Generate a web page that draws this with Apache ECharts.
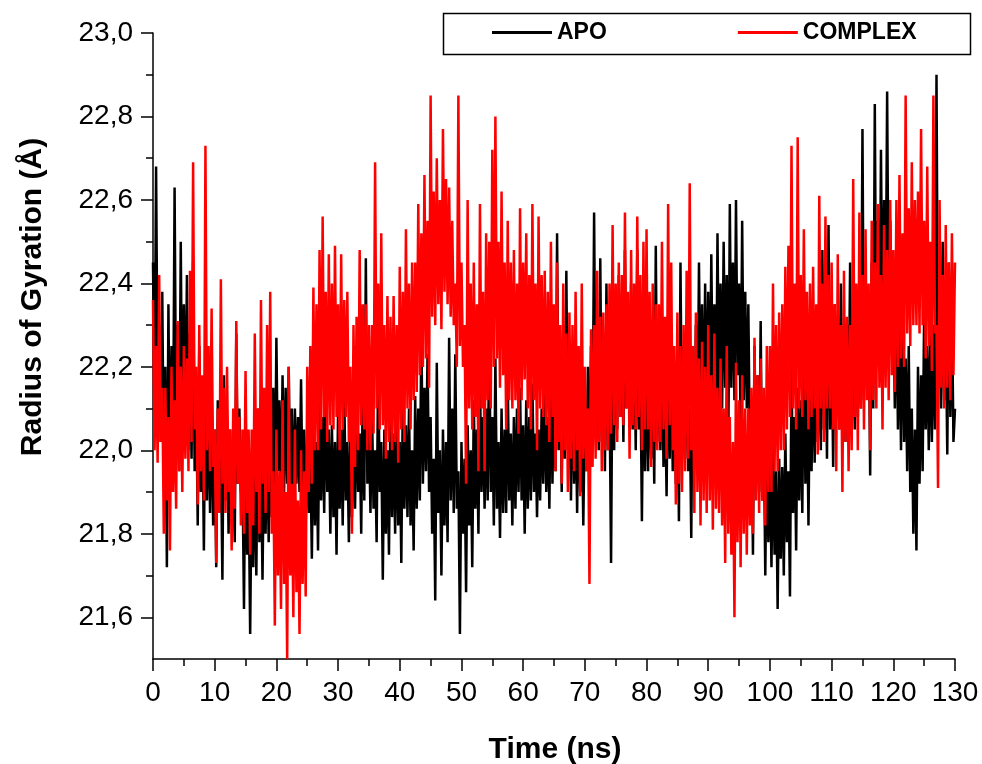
<!DOCTYPE html>
<html>
<head>
<meta charset="utf-8">
<script src="https://cdn.jsdelivr.net/npm/echarts@6/dist/echarts.min.js"></script>
<style>
html,body{margin:0;padding:0;background:#fff;}
#c{width:982px;height:764px;}
</style>
</head>
<body>
<div id="c"></div>
<script>
// Time step of the trajectory samples (ns)
const TIME_STEP = 0.25;
const seriesNames = ['APO', 'COMPLEX'];
const yTickLabels = [21.6, 21.8, 22.0, 22.2, 22.4, 22.6, 22.8, 23.0];
const yMinorTicks = [21.7, 21.9, 22.1, 22.3, 22.5, 22.7, 22.9];

const apo = [
 22.45,22.10,22.68,22.15,22.30,22.02,22.38,21.95,22.20,21.72,22.35,21.90,22.25,22.00,22.63,22.05,22.30,21.95,22.50,22.00,
 22.35,22.05,22.42,22.00,22.28,21.98,22.45,21.95,22.15,21.82,22.25,21.90,22.10,21.76,22.20,21.88,22.12,21.85,22.15,21.82,
 22.05,21.72,22.12,21.85,22.02,21.69,22.18,21.88,22.08,21.80,22.05,21.84,22.00,21.78,22.28,21.92,22.10,21.90,21.95,21.62,
 22.08,21.75,21.92,21.56,21.95,21.72,22.00,21.70,22.10,21.78,22.00,21.69,22.02,21.80,22.05,21.78,22.05,21.84,22.15,21.85,
 22.27,21.95,22.12,21.88,22.18,21.90,22.15,21.92,22.20,21.88,22.10,21.86,22.10,21.92,22.08,21.90,22.17,21.88,22.05,21.82,
 22.05,21.85,22.00,21.74,22.08,21.82,22.02,21.76,22.12,21.88,22.08,21.85,22.17,21.90,22.05,21.80,22.06,21.84,22.02,21.75,
 22.10,21.86,22.05,21.82,22.14,21.88,22.02,21.78,22.05,21.84,22.08,21.86,22.12,21.90,22.04,21.80,22.15,21.88,22.46,21.92,
 22.06,21.85,22.10,21.86,22.00,21.78,22.22,21.90,22.02,21.69,22.05,21.80,22.00,21.75,22.12,21.84,22.04,21.80,22.08,21.82,
 22.02,21.73,22.14,21.86,22.06,21.84,22.10,21.82,22.00,21.76,22.13,21.86,22.10,21.88,22.29,21.92,22.15,21.95,22.23,21.90,
 22.08,21.80,21.98,21.64,22.21,21.85,22.00,21.70,22.05,21.82,22.02,21.78,22.27,21.88,22.10,21.85,22.23,21.86,21.95,21.56,
 22.02,21.80,21.98,21.66,22.06,21.82,22.00,21.72,22.12,21.86,22.05,21.80,22.17,21.90,22.08,21.86,22.10,21.88,22.30,21.90,
 22.08,21.82,22.22,21.86,22.02,21.79,22.10,21.85,22.05,21.85,22.17,21.88,22.04,21.82,22.08,21.86,22.10,21.90,22.15,21.88,
 22.06,21.80,22.12,21.86,22.08,21.88,22.16,21.90,22.04,21.84,22.05,21.88,22.10,21.92,22.14,21.90,22.08,21.86,22.20,21.92,
 22.18,21.95,22.52,22.00,22.22,21.90,22.30,21.98,22.43,22.00,22.15,21.88,22.20,21.92,22.12,21.85,22.15,21.90,22.10,21.82,
 22.10,21.95,22.20,21.92,22.25,22.00,22.57,22.05,22.30,22.00,22.46,22.02,22.28,21.95,22.40,22.00,22.15,21.73,22.30,22.00,
 22.32,22.05,22.42,22.08,22.30,22.02,22.48,22.10,22.35,22.06,22.40,22.05,22.30,22.00,22.48,22.05,22.20,21.83,22.25,21.95,
 22.22,21.95,22.20,21.98,22.18,21.92,22.49,22.02,22.25,22.00,22.25,21.96,22.15,21.89,22.30,21.98,22.20,21.95,22.18,21.92,
 22.15,21.83,22.45,22.00,22.25,21.98,22.30,21.95,22.10,21.79,22.22,21.98,22.30,22.00,22.45,22.08,22.35,22.05,22.40,22.08,
 22.38,22.08,22.47,22.10,22.35,22.02,22.52,22.12,22.40,22.10,22.50,22.15,22.42,22.00,22.59,22.15,22.45,22.12,22.60,22.18,
 22.40,22.05,22.55,22.12,22.38,22.10,22.35,22.00,22.10,21.75,22.25,21.92,22.18,21.90,22.31,21.88,22.05,21.70,22.05,21.78,
 21.98,21.72,22.02,21.75,21.95,21.62,21.98,21.74,21.96,21.70,22.04,21.78,21.95,21.65,22.21,21.85,22.08,21.76,22.15,21.88,
 22.12,21.85,22.29,21.92,22.15,21.82,22.20,21.95,22.25,21.97,22.30,22.02,22.28,22.00,22.48,22.05,22.25,21.98,22.54,22.05,
 22.30,21.96,22.35,22.08,22.32,22.05,22.40,22.10,22.28,22.02,22.30,22.06,22.45,22.10,22.32,22.05,22.38,22.08,22.35,22.10,
 22.77,22.12,22.42,22.15,22.35,21.94,22.45,22.10,22.83,22.20,22.55,22.20,22.72,22.25,22.60,22.30,22.86,22.28,22.55,22.25,
 22.35,22.10,22.40,22.05,22.30,22.00,22.35,22.02,22.22,21.95,22.25,21.90,22.10,21.80,22.05,21.76,22.20,21.92,22.18,21.95,
 22.33,22.05,22.25,22.00,22.28,22.02,22.30,22.05,22.90,22.15,22.40,22.10,22.50,22.12,22.30,21.99,22.45,22.08,22.35,22.02,
 22.10
];

const complex = [
 22.36,22.00,22.25,21.97,22.42,22.02,22.15,21.80,22.15,21.88,22.08,21.76,22.20,21.90,22.12,21.86,22.31,21.95,22.20,21.90,
 22.25,21.98,22.22,21.95,22.43,22.02,22.69,22.05,22.20,21.87,22.30,21.95,22.18,21.88,22.73,22.00,22.25,21.95,22.34,21.96,
 22.05,21.73,22.10,21.85,22.41,21.92,22.15,21.85,22.20,21.90,22.05,21.76,22.10,21.86,22.31,21.92,22.08,21.82,22.05,21.80,
 22.19,21.85,22.05,21.75,22.05,21.82,22.28,21.90,22.10,21.80,22.36,21.92,22.15,21.85,22.30,21.90,22.38,21.80,21.95,21.58,
 22.05,21.70,21.95,21.62,22.12,21.68,21.90,21.50,22.20,21.70,21.92,21.60,22.05,21.66,21.88,21.56,22.00,21.68,21.95,21.65,
 22.20,21.90,22.25,21.92,22.39,22.00,22.35,22.00,22.48,22.05,22.56,22.08,22.38,22.02,22.47,22.06,22.40,22.05,22.49,22.08,
 22.35,22.00,22.47,22.05,22.36,22.08,22.38,22.02,22.20,21.80,22.30,21.96,22.32,22.00,22.48,22.06,22.35,22.05,22.35,22.00,
 22.30,22.00,22.30,22.04,22.69,22.10,22.40,22.05,22.52,22.06,22.30,21.98,22.37,22.02,22.32,22.00,22.37,22.02,22.30,21.97,
 22.44,22.05,22.38,22.02,22.53,22.10,22.40,22.05,22.45,22.12,22.45,22.14,22.59,22.18,22.52,22.20,22.66,22.22,22.55,22.15,
 22.85,22.32,22.62,22.30,22.70,22.35,22.60,22.29,22.77,22.38,22.65,22.35,22.63,22.32,22.55,22.30,22.40,22.20,22.85,22.25,
 22.45,22.20,22.30,21.92,22.60,22.10,22.40,22.05,22.45,22.08,22.35,21.95,22.59,22.10,22.38,21.95,22.52,22.12,22.50,22.10,
 22.72,22.20,22.80,22.22,22.50,22.15,22.62,22.18,22.45,22.05,22.55,22.12,22.45,22.10,22.48,22.12,22.40,22.04,22.58,22.12,
 22.45,22.17,22.52,22.10,22.42,22.05,22.59,22.12,22.40,22.00,22.56,22.10,22.42,22.08,22.43,22.06,22.38,22.02,22.50,22.08,
 22.35,21.95,22.45,22.02,22.30,21.92,22.40,22.00,22.28,21.90,22.33,21.98,22.30,21.95,22.38,22.00,22.25,21.89,22.40,21.98,
 22.20,21.95,22.10,21.68,22.29,21.96,22.30,21.98,22.43,22.02,22.32,21.95,22.33,22.00,22.35,22.00,22.40,22.04,22.54,22.06,
 22.40,22.02,22.45,22.08,22.42,22.06,22.57,22.10,22.38,21.98,22.48,22.06,22.40,22.05,22.56,22.08,22.42,22.00,22.50,22.05,
 22.53,22.05,22.38,21.96,22.40,22.02,22.35,22.00,22.35,22.02,22.50,22.05,22.32,21.98,22.59,22.06,22.45,22.00,22.25,21.87,
 22.33,21.92,22.25,21.90,22.30,21.95,22.43,21.98,22.64,22.00,22.25,21.85,22.33,21.90,22.22,21.82,22.26,21.88,22.20,21.85,
 22.30,21.88,22.18,21.81,22.28,21.86,22.15,21.85,22.22,21.82,22.10,21.73,22.25,21.80,22.08,21.75,22.02,21.60,22.21,21.78,
 22.12,21.72,22.18,21.80,22.10,21.75,22.10,21.82,22.15,21.80,22.27,21.88,22.18,21.85,22.22,21.88,22.15,21.82,22.25,21.90,
 22.25,21.90,22.40,21.95,22.30,21.95,22.33,22.00,22.35,22.00,22.44,22.05,22.49,22.08,22.73,22.10,22.40,22.05,22.75,22.10,
 22.42,22.08,22.53,22.12,22.38,22.05,22.40,22.08,22.44,22.10,22.35,21.99,22.61,22.10,22.40,22.02,22.56,22.10,22.42,22.10,
 22.45,22.05,22.35,21.95,22.47,22.05,22.30,21.90,22.43,22.02,22.32,21.95,22.30,22.00,22.65,22.08,22.40,22.00,22.57,22.10,
 22.42,22.05,22.53,22.12,22.40,22.00,22.55,22.12,22.45,22.10,22.59,22.15,22.42,22.05,22.54,22.15,22.48,22.12,22.60,22.18,
 22.48,22.14,22.60,22.20,22.66,22.22,22.52,22.20,22.85,22.28,22.58,22.25,22.69,22.30,22.60,22.30,22.62,22.28,22.77,22.30,
 22.55,22.22,22.68,22.25,22.50,22.19,22.85,22.28,22.30,21.91,22.60,22.15,22.42,22.10,22.54,22.15,22.45,22.12,22.52,22.18,
 22.45
];

const FONT = "'Liberation Sans', Arial, Helvetica, sans-serif";
const toPairs = arr => arr.map((v, i) => [i * TIME_STEP, v]);
const fmt = v => Number(v).toFixed(1).replace('.', ',');

const chart = echarts.init(document.getElementById('c'), null, {renderer: 'canvas'});
chart.setOption({
  animation: false,
  backgroundColor: '#ffffff',
  grid: {left: 153, right: 27, top: 33, bottom: 105, containLabel: false, outerBoundsMode: 'none'},
  legend: {
    left: 492, top: 21, padding: 0,
    itemWidth: 60, itemHeight: 3, itemGap: 131,
    icon: 'rect',
    data: seriesNames,
    textStyle: {fontFamily: FONT, fontSize: 23, fontWeight: 'bold', color: '#000'}
  },
  xAxis: {
    type: 'value', min: 0, max: 130, interval: 10,
    axisLine: {show: true, onZero: false, lineStyle: {color: '#000', width: 1.5}},
    axisTick: {show: true, inside: false, length: 12, lineStyle: {color: '#000', width: 1.5}},
    minorTick: {show: true, splitNumber: 2, length: 7, lineStyle: {color: '#000', width: 1.5}},
    splitLine: {show: false}, minorSplitLine: {show: false},
    axisLabel: {fontFamily: FONT, fontSize: 28, color: '#000', margin: 20}
  },
  yAxis: [{
    type: 'value', min: 21.5, max: 23.0, interval: 0.1,
    axisLine: {show: true, onZero: false, lineStyle: {color: '#000', width: 1.5}},
    axisTick: {show: true, inside: false, length: 12, customValues: yTickLabels, lineStyle: {color: '#000', width: 1.5}},
    splitLine: {show: false},
    axisLabel: {fontFamily: FONT, fontSize: 28, color: '#000', margin: 20, customValues: yTickLabels, formatter: fmt}
  }, {
    type: 'value', min: 21.5, max: 23.0, interval: 0.1, position: 'left',
    axisLine: {show: false},
    axisTick: {show: true, inside: false, length: 7, customValues: yMinorTicks, lineStyle: {color: '#000', width: 1.5}},
    splitLine: {show: false},
    axisLabel: {show: false}
  }],
  graphic: [
    {type: 'rect', shape: {x: 443.5, y: 13.5, width: 527, height: 41}, style: {fill: 'none', stroke: '#000', lineWidth: 1.5}, z: 10},
    {type: 'text', x: 33, y: 297, rotation: Math.PI / 2,
     style: {text: 'Radius of Gyration (Å)', font: "bold 30px " + FONT, fill: '#000', textAlign: 'center', textVerticalAlign: 'middle'}},
    {type: 'text', x: 555, y: 750,
     style: {text: 'Time (ns)', font: "bold 30px " + FONT, fill: '#000', textAlign: 'center', textVerticalAlign: 'middle'}}
  ],
  series: [
    {name: seriesNames[0], type: 'line', data: toPairs(apo), symbol: 'none', showSymbol: false,
     lineStyle: {color: '#000000', width: 2.5}, itemStyle: {color: '#000000'}, z: 2},
    {name: seriesNames[1], type: 'line', data: toPairs(complex), symbol: 'none', showSymbol: false,
     lineStyle: {color: '#ff0000', width: 2.5}, itemStyle: {color: '#ff0000'}, z: 3}
  ]
});
</script>
</body>
</html>
